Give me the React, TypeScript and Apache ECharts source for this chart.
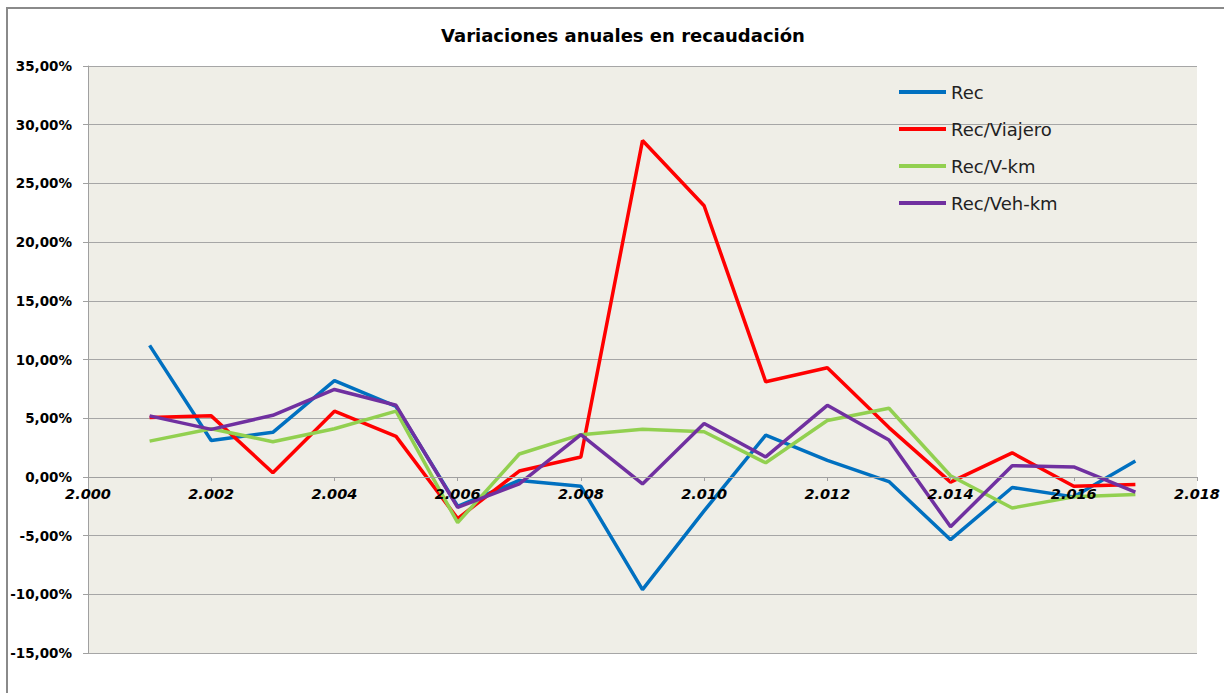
import React, { useEffect, useRef } from "react";
import * as echarts from "echarts";

const years = [2001, 2002, 2003, 2004, 2005, 2006, 2007, 2008, 2009, 2010, 2011, 2012, 2013, 2014, 2015, 2016, 2017];
const rec = [11.2, 3.1, 3.8, 8.2, 6.0, -2.5, -0.3, -0.8, -9.6, -2.9, 3.55, 1.4, -0.4, -5.35, -0.9, -1.7, 1.35];
const recViajero = [5.05, 5.2, 0.35, 5.6, 3.45, -3.55, 0.5, 1.7, 28.65, 23.1, 8.1, 9.3, 4.2, -0.45, 2.05, -0.8, -0.65];
const recVkm = [3.05, 4.1, 3.0, 4.1, 5.6, -3.9, 1.95, 3.6, 4.05, 3.85, 1.2, 4.8, 5.85, 0.1, -2.65, -1.7, -1.5];
const recVehkm = [5.2, 4.05, 5.25, 7.45, 6.1, -2.6, -0.6, 3.6, -0.6, 4.55, 1.7, 6.1, 3.15, -4.25, 0.95, 0.85, -1.3];

const seriesNames = ["Rec", "Rec/Viajero", "Rec/V-km", "Rec/Veh-km"];
const seriesColors = ["#0070C0", "#FF0000", "#92D050", "#7030A0"];
const seriesData = [rec, recViajero, recVkm, recVehkm];

const FONT = "'DejaVu Sans', Verdana, sans-serif";

export default function App() {
  const ref = useRef<HTMLDivElement>(null);
  useEffect(() => {
    document.body.style.margin = "0";
    const chart = echarts.init(ref.current!, null, { renderer: "svg" });
    chart.setOption({
      animation: false,
      backgroundColor: "#FFFFFF",
      title: {
        text: "Variaciones anuales en recaudación",
        left: 618,
        top: 21,
        textAlign: "center",
        textStyle: { fontFamily: FONT, fontSize: 18, fontWeight: "bold", color: "#000" },
      },
      graphic: [
        { type: "line", shape: { x1: 6, y1: 8, x2: 1224, y2: 8 }, style: { stroke: "#8A8A8A", lineWidth: 2 } },
        { type: "line", shape: { x1: 7, y1: 8, x2: 7, y2: 693 }, style: { stroke: "#8A8A8A", lineWidth: 2 } },
      ],
      legend: {
        orient: "vertical",
        left: 899,
        top: 83,
        padding: 0,
        icon: "rect",
        itemWidth: 47,
        itemHeight: 4,
        itemGap: 19,
        textStyle: { fontFamily: FONT, fontSize: 18, color: "#222" },
        data: seriesNames,
      },
      grid: {
        left: 88,
        top: 66,
        right: 27,
        bottom: 40,
        show: true,
        backgroundColor: "#EFEEE7",
        borderWidth: 0,
      },
      xAxis: {
        type: "value",
        min: 2000,
        max: 2018,
        interval: 2,
        position: "bottom",
        offset: -176,
        z: 5,
        axisLine: { show: true, onZero: false, lineStyle: { color: "#A0A0A0", width: 1 } },
        axisTick: { show: true, length: 4, lineStyle: { color: "#A0A0A0" } },
        splitLine: { show: false },
        axisLabel: {
          margin: 9,
          fontFamily: FONT,
          fontSize: 14.5,
          fontWeight: "bold",
          fontStyle: "italic",
          color: "#000",
          formatter: (v: number) => {
            const s = String(Math.round(v));
            return s.slice(0, 1) + "." + s.slice(1);
          },
        },
      },
      yAxis: {
        type: "value",
        min: -15,
        max: 35,
        interval: 5,
        axisLine: { show: true, lineStyle: { color: "#A0A0A0", width: 1 } },
        axisTick: { show: true, length: 5, lineStyle: { color: "#A0A0A0" } },
        splitLine: { show: true, lineStyle: { color: "#A6A6A6", width: 1 } },
        axisLabel: {
          margin: 16,
          fontFamily: FONT,
          fontSize: 13.5,
          fontWeight: "bold",
          color: "#000",
          formatter: (v: number) => v.toFixed(2).replace(".", ",") + "%",
        },
      },
      series: seriesNames.map((name, i) => ({
        name,
        type: "line",
        data: years.map((y, j) => [y, seriesData[i][j]]),
        symbol: "none",
        smooth: false,
        color: seriesColors[i],
        lineStyle: { width: 3.5, color: seriesColors[i] },
      })),
    });
    return () => chart.dispose();
  }, []);
  return <div ref={ref} style={{ width: 1224, height: 693 }} />;
}
